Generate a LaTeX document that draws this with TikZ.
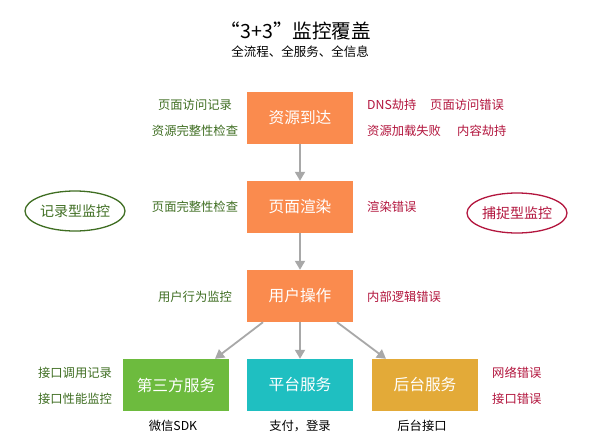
\documentclass[tikz,border=0pt]{standalone}
\usepackage{fontspec}
\setmainfont{Noto Sans CJK SC}
\usetikzlibrary{arrows.meta,shapes.geometric}
\definecolor{boxorange}{HTML}{FA8B4E}
\definecolor{boxgreen}{HTML}{6DBB3E}
\definecolor{boxteal}{HTML}{1FBFC1}
\definecolor{boxgold}{HTML}{E3AA38}
\definecolor{lblgreen}{HTML}{3F6E22}
\definecolor{lblred}{HTML}{B3163E}
\definecolor{arrowgray}{HTML}{A8A8A8}
\begin{document}
\begin{tikzpicture}[x=1pt,y=-1pt,
  stage/.style={minimum width=106pt,minimum height=52pt,inner sep=0pt,text=white,font=\fontsize{15.7}{18}\selectfont},
  glabel/.style={text=lblgreen,inner sep=0pt,font=\fontsize{12.3}{14}\selectfont},
  rlabel/.style={text=lblred,inner sep=0pt,anchor=west,font=\fontsize{12.3}{14}\selectfont},
  blabel/.style={text=black,inner sep=0pt,font=\fontsize{12.3}{14}\selectfont},
  kind/.style={ellipse,draw,line width=1.3pt,minimum width=100pt,minimum height=40pt,inner sep=0pt,font=\fontsize{14}{16}\selectfont},
  flow/.style={draw=arrowgray,line width=1.8pt,-{Triangle[length=9pt,width=10pt]}}
]
\useasboundingbox[fill=white] (0,0) rectangle (600,447);

\node[inner sep=0pt,font=\fontsize{19.6}{22}\selectfont] (title) at (296,31) {“3+3”监控覆盖};
\node[inner sep=0pt,font=\fontsize{12.5}{14}\selectfont] (sub) at (300,52) {全流程、全服务、全信息};

\node[stage,fill=boxorange] (b1) at (300,118) {资源到达};
\node[stage,fill=boxorange] (b2) at (300,207) {页面渲染};
\node[stage,fill=boxorange] (b3) at (300,296) {用户操作};
\node[stage,fill=boxgreen] (s1) at (176,385) {第三方服务};
\node[stage,fill=boxteal] (s2) at (300,385) {平台服务};
\node[stage,fill=boxgold] (s3) at (425,385) {后台服务};

\draw[flow] (b1.south) -- (b2.north);
\draw[flow] (b2.south) -- (b3.north);
\draw[flow] ([xshift=-37pt]b3.south) -- ([xshift=39pt]s1.north);
\draw[flow] (b3.south) -- (s2.north);
\draw[flow] ([xshift=37pt]b3.south) -- ([xshift=-39pt]s3.north);

\node[kind,draw=lblgreen,text=lblgreen] (rec) at (75,211) {记录型监控};
\node[kind,draw=lblred,text=lblred] (cap) at (517,213) {捕捉型监控};

\node[glabel] (l1a) at (195,105) {页面访问记录};
\node[glabel] (l1b) at (195,131) {资源完整性检查};
\node[glabel] (l2) at (195,207) {页面完整性检查};
\node[glabel] (l3) at (195,297) {用户行为监控};
\node[glabel] (l4a) at (75,373) {接口调用记录};
\node[glabel] (l4b) at (75,399) {接口性能监控};

\node[rlabel] (r1a) at (367,105) {DNS劫持};
\node[rlabel] (r1b) at (430,105) {页面访问错误};
\node[rlabel] (r1c) at (367,131) {资源加载失败};
\node[rlabel] (r1d) at (457,131) {内容劫持};
\node[rlabel] (r2) at (367,207) {渲染错误};
\node[rlabel] (r3) at (367,297) {内部逻辑错误};
\node[rlabel] (r4a) at (492,373) {网络错误};
\node[rlabel] (r4b) at (492,399) {接口错误};

\node[blabel] (u1) at (173,426) {微信SDK};
\node[blabel] (u2) at (300,426) {支付，登录};
\node[blabel] (u3) at (422,426) {后台接口};
\end{tikzpicture}
\end{document}
